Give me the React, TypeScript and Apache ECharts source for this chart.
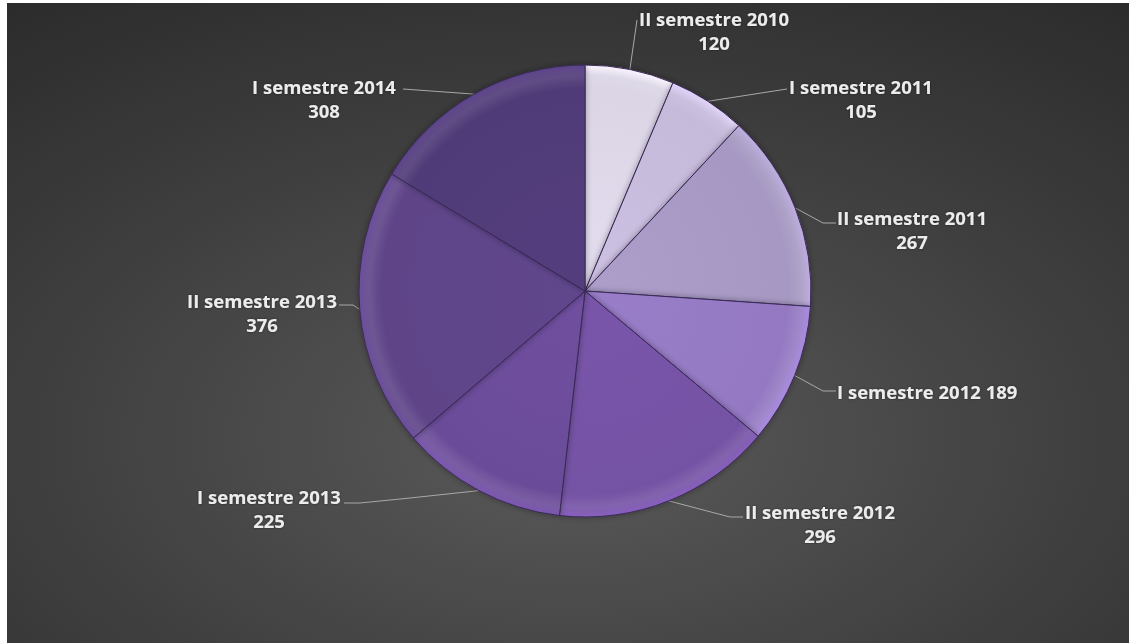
import React, { useEffect, useRef } from "react";
import * as echarts from "echarts";

const categories = [
  "II semestre 2010",
  "I semestre 2011",
  "II semestre 2011",
  "I semestre 2012",
  "II semestre 2012",
  "I semestre 2013",
  "II semestre 2013",
  "I semestre 2014",
];
const values = [120, 105, 267, 189, 296, 225, 376, 308];
const sliceColors = [
  "#dbd5e6",
  "#c6badb",
  "#a698c2",
  "#9479c2",
  "#7552a4",
  "#6b4c99",
  "#5e4488",
  "#503b78",
];

// label layout (page coordinates): text anchor, alignment and leader-line bends
const OFFSET_X = 7;
const OFFSET_Y = 3;
const PIE_CX = 585 - OFFSET_X;
const PIE_CY = 291 - OFFSET_Y;
const PIE_R = 226;
const labelAnchors: { x: number; y: number; align: string; bends: number[][] }[] = [
  { x: 714, y: 6, align: "center", bends: [[637, 20]] },
  { x: 861, y: 74, align: "center", bends: [[787, 89]] },
  { x: 912, y: 205, align: "center", bends: [[823, 223], [836, 223]] },
  { x: 837, y: 379, align: "left", bends: [[823, 391], [836, 391]] },
  { x: 820, y: 499, align: "center", bends: [[730, 517], [743, 517]] },
  { x: 269, y: 484, align: "center", bends: [[410, 498], [360, 503], [344, 503]] },
  { x: 262, y: 288, align: "center", bends: [[353, 305], [339, 305]] },
  { x: 324, y: 74, align: "center", bends: [[403, 89]] },
];

function bevel(c: string) {
  return {
    type: "radial",
    x: PIE_CX,
    y: PIE_CY,
    r: PIE_R,
    global: true,
    colorStops: [
      { offset: 0, color: echarts.color.lift(c, -0.04) },
      { offset: 0.9, color: c },
      { offset: 0.955, color: echarts.color.lift(c, 0.1) },
      { offset: 1, color: echarts.color.lift(c, -0.15) },
    ],
  };
}

export default function App() {
  const ref = useRef<HTMLDivElement>(null);
  useEffect(() => {
    if (!ref.current) return;
    const chart = echarts.init(ref.current, undefined, { renderer: "svg" });
    const data = categories.map((name, i) => ({
      name,
      value: values[i],
      itemStyle: { color: bevel(sliceColors[i]) },
      label: i === 3 ? { formatter: "{b} {c}" } : undefined,
    }));
    chart.setOption({
      animation: false,
      backgroundColor: {
        type: "radial",
        x: 0.5,
        y: 0.68,
        r: 0.95,
        colorStops: [
          { offset: 0, color: "#5a5a5a" },
          { offset: 0.55, color: "#3c3c3c" },
          { offset: 1, color: "#262626" },
        ],
      },
      series: [
        {
          type: "pie",
          center: [PIE_CX, PIE_CY],
          radius: PIE_R,
          startAngle: 90,
          clockwise: true,
          data,
          itemStyle: {
            borderColor: "#3a2a58",
            borderWidth: 1,
            shadowColor: "rgba(0,0,0,0.35)",
            shadowBlur: 6,
          },
          label: {
            show: true,
            position: "outside",
            formatter: "{b}\n{c}",
            color: "#ececec",
            fontFamily: "Open Sans",
            fontWeight: "bold",
            fontSize: 18.5,
            lineHeight: 24,
            textShadowColor: "rgba(0,0,0,0.5)",
            textShadowBlur: 2,
          },
          labelLine: {
            show: true,
            lineStyle: { color: "#a8a8a8", width: 1 },
          },
          labelLayout: (params: any) => {
            const a = labelAnchors[params.dataIndex];
            const p0 = params.labelLinePoints ? params.labelLinePoints[0] : [0, 0];
            const pts = [p0].concat(a.bends.map((b) => [b[0] - OFFSET_X, b[1] - OFFSET_Y]));
            return {
              x: a.x - OFFSET_X,
              y: a.y - OFFSET_Y,
              align: a.align,
              verticalAlign: "top",
              labelLinePoints: pts,
            };
          },
        },
      ],
    });
    return () => chart.dispose();
  }, []);
  return (
    <div
      ref={ref}
      style={{ position: "absolute", left: OFFSET_X, top: OFFSET_Y, width: 1129 - OFFSET_X, height: 643 - OFFSET_Y }}
    />
  );
}
